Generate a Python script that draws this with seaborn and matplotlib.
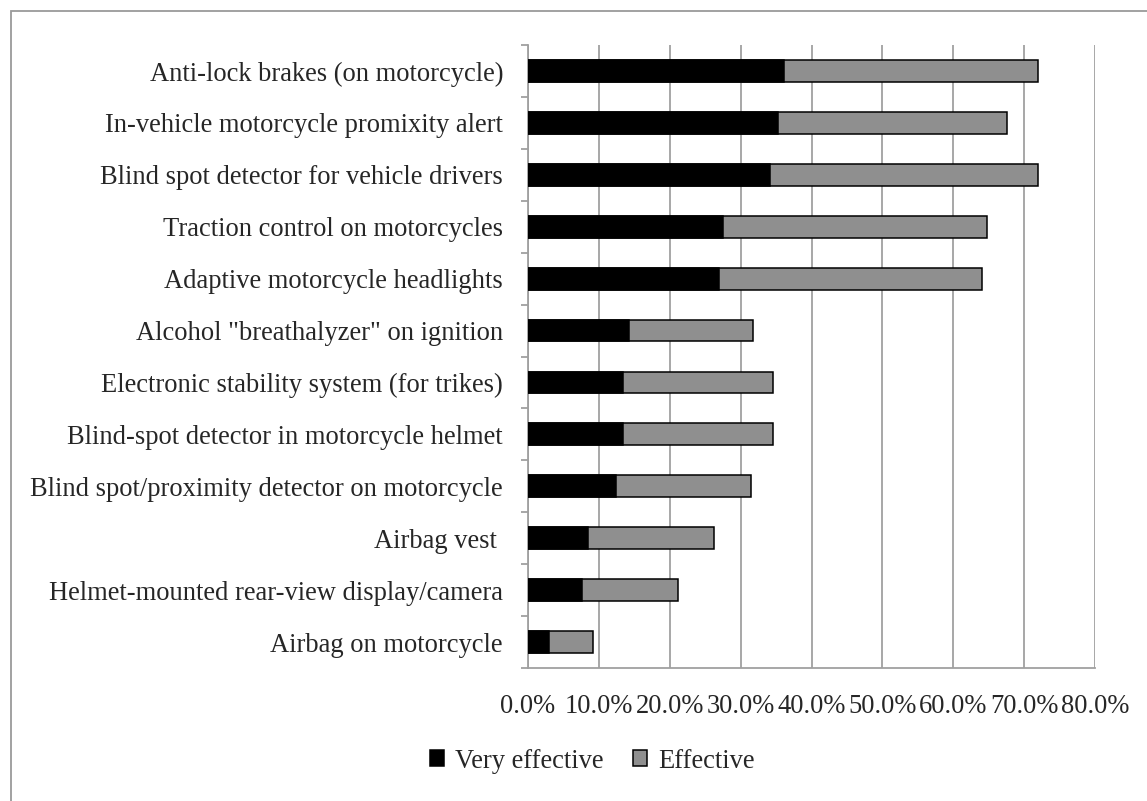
"""Stacked horizontal bars: perceived effectiveness of motorcycle safety technologies."""

import matplotlib

matplotlib.use("Agg")
import matplotlib.pyplot as plt
import numpy as np
import pandas as pd
import seaborn as sns
from matplotlib.patches import Patch, Rectangle
from matplotlib.ticker import FixedLocator, MultipleLocator, PercentFormatter

categories = [
    "Anti-lock brakes (on motorcycle)",
    "In-vehicle motorcycle promixity alert",
    "Blind spot detector for vehicle drivers",
    "Traction control on motorcycles",
    "Adaptive motorcycle headlights",
    'Alcohol "breathalyzer" on ignition',
    "Electronic stability system (for trikes)",
    "Blind-spot detector in motorcycle helmet",
    "Blind spot/proximity detector on motorcycle",
    "Airbag vest ",
    "Helmet-mounted rear-view display/camera",
    "Airbag on motorcycle",
]
very_effective = [36.1, 35.3, 34.1, 27.5, 26.9, 14.2, 13.4, 13.4, 12.4, 8.4, 7.6, 3.0]
effective = [35.9, 32.3, 37.8, 37.2, 37.1, 17.6, 21.1, 21.1, 19.1, 17.9, 13.6, 6.2]

BLACK = "#000000"
GREY = "#8F8F8F"
LINE = "#A0A0A0"
FS = 19.1

sns.set_style("white")
plt.rcParams["font.family"] = ["Liberation Serif", "DejaVu Serif"]

df = pd.DataFrame(
    {
        "item": categories,
        "very": very_effective,
        "total": np.array(very_effective) + np.array(effective),
    }
)

fig = plt.figure(figsize=(11.47, 8.01), dpi=100)
ax = fig.add_axes([528 / 1147, 1 - 668 / 801, (1095 - 528) / 1147, (668 - 45) / 801])

# total first (grey), then the "very effective" part on top of it
sns.barplot(data=df, x="total", y="item", orient="h", color=GREY,
            edgecolor=BLACK, linewidth=1.1, width=0.42, saturation=1, ax=ax, zorder=3)
sns.barplot(data=df, x="very", y="item", orient="h", color=BLACK,
            edgecolor=BLACK, linewidth=1.1, width=0.42, saturation=1, ax=ax, zorder=4)

ax.set_xlim(0, 80)
ax.set_ylim(len(categories) - 0.5, -0.5)
ax.xaxis.set_major_locator(MultipleLocator(10))
ax.xaxis.set_major_formatter(PercentFormatter(xmax=100, decimals=1))
ax.grid(axis="x", color=LINE, linewidth=1.3, zorder=0)
ax.grid(axis="y", visible=False)
ax.set_xlabel("")
ax.set_ylabel("")

for side in ["top", "right"]:
    ax.spines[side].set_visible(False)
for side in ["left", "bottom"]:
    ax.spines[side].set_color(LINE)
    ax.spines[side].set_linewidth(1.3)

ax.tick_params(axis="x", which="major", length=5, width=1.3, color=LINE,
               labelsize=FS, pad=14, direction="out")
ax.tick_params(axis="y", which="major", length=0, labelsize=FS, pad=18)
ax.yaxis.set_minor_locator(FixedLocator(np.arange(-0.5, len(categories), 1.0)))
ax.tick_params(axis="y", which="minor", length=5, width=1.3, color=LINE, direction="out", left=True)

handles = [
    Patch(facecolor=BLACK, edgecolor=BLACK, linewidth=1.1, label="Very effective"),
    Patch(facecolor=GREY, edgecolor=BLACK, linewidth=1.1, label="Effective"),
]
fig.legend(handles=handles, loc="center", bbox_to_anchor=(592 / 1147, 1 - 761 / 801),
           ncol=2, frameon=False, fontsize=FS, handlelength=0.55, handleheight=0.55,
           handletextpad=0.4, columnspacing=1.1, borderaxespad=0)

# chart-area frame (only left and top edges fall inside the image)
fig.patches.append(Rectangle((10.5 / 1147, -0.1), 1.2, 1.1 - 11.5 / 801,
                             transform=fig.transFigure, fill=False,
                             edgecolor="#9A9A9A", linewidth=1.3))

fig.savefig("out.png", dpi=100)
plt.close(fig)
